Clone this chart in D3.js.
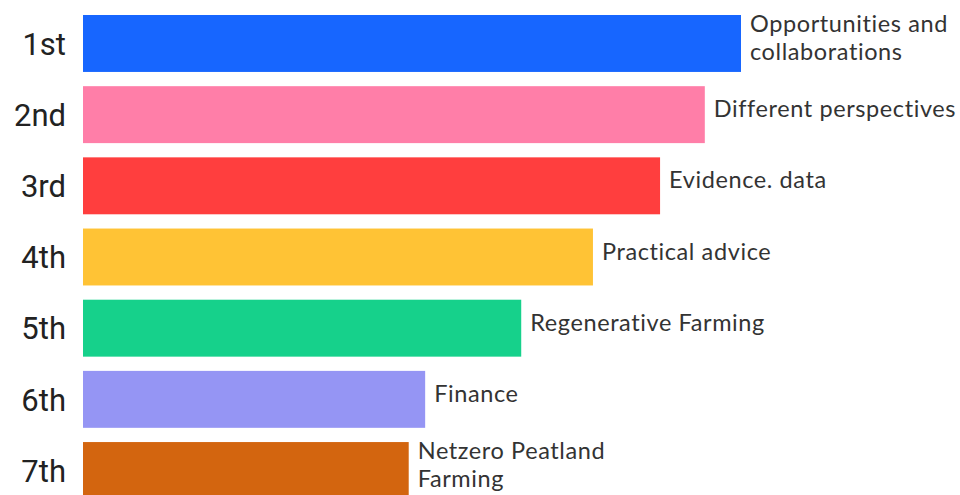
<!DOCTYPE html>
<html>
<head>
<meta charset="utf-8">
<script src="https://cdn.jsdelivr.net/npm/d3@7"></script>
<style>
  html, body { margin: 0; padding: 0; background: #ffffff; }
  svg { display: block; }
</style>
</head>
<body>
<svg id="chart" width="960" height="495"></svg>
<script>
// Ranked priorities (relative score, top item = 100)
const ranks = ["1st", "2nd", "3rd", "4th", "5th", "6th", "7th"];
const topics = [
  ["Opportunities and", "collaborations"],
  ["Different perspectives"],
  ["Evidence. data"],
  ["Practical advice"],
  ["Regenerative Farming"],
  ["Finance"],
  ["Netzero Peatland", "Farming"]
];
const scores = [100, 94.5, 87.7, 77.5, 66.6, 52.0, 49.5];
const colors = ["#1766ff", "#ff7ea8", "#ff3e3e", "#ffc335", "#16d18b", "#9595f4", "#d3650f"];

const data = ranks.map((r, i) => ({ rank: r, topic: topics[i], score: scores[i], color: colors[i] }));

const svg = d3.select("#chart");

const x = d3.scaleLinear().domain([0, 100]).range([83, 741]);
const y = d3.scaleBand().domain(ranks).range([15, 499]).paddingInner(0.2).paddingOuter(0);
const mid = d => y(d.rank) + y.bandwidth() / 2;

// Bars
svg.append("g")
  .selectAll("rect")
  .data(data)
  .join("rect")
  .attr("x", x(0))
  .attr("y", d => y(d.rank))
  .attr("width", d => x(d.score) - x(0))
  .attr("height", y.bandwidth())
  .attr("fill", d => d.color);

// Rank labels on the left
svg.append("g")
  .selectAll("text")
  .data(data)
  .join("text")
  .attr("x", 66)
  .attr("y", mid)
  .attr("dy", "0.36em")
  .attr("text-anchor", "end")
  .attr("font-family", "Roboto, 'Noto Sans', sans-serif")
  .attr("font-size", 31)
  .attr("fill", "#222")
  .text(d => d.rank);

// Topic labels after each bar end; long topics wrap onto two lines
const lineH = 28.5;
svg.append("g")
  .selectAll("g")
  .data(data)
  .join("g")
  .each(function (d) {
    const n = d.topic.length;
    d3.select(this)
      .selectAll("text")
      .data(d.topic)
      .join("text")
      .attr("x", x(d.score) + 9)
      .attr("y", (t, j) => mid(d) + 2.5 - (n - 1) * lineH / 2 + j * lineH)
      .attr("font-family", "Lato, 'Open Sans', sans-serif")
      .attr("font-size", 23.5)
      .attr("letter-spacing", 0.6)
      .attr("fill", "#333")
      .text(t => t);
  });
</script>
</body>
</html>
